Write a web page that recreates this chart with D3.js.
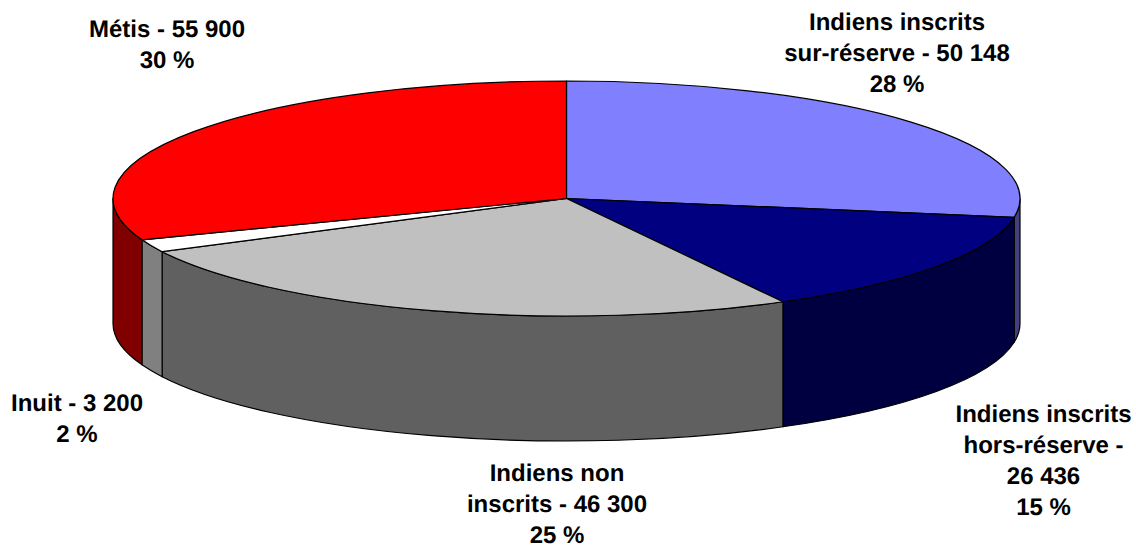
<!DOCTYPE html>
<html>
<head>
<meta charset="utf-8">
<script src="https://cdn.jsdelivr.net/npm/d3@7"></script>
<style>
  html, body { margin: 0; padding: 0; background: #fff; }
  svg { display: block; }
</style>
</head>
<body>
<div id="viz"></div>
<script>
const categories = ["Indiens inscrits sur-réserve", "Indiens inscrits hors-réserve", "Indiens non inscrits", "Inuit", "Métis"];
const values = [50148, 26436, 46300, 3200, 55900];
const topColors = ["#8080ff", "#000080", "#c0c0c0", "#ffffff", "#ff0000"];
const sideColors = ["#404080", "#000040", "#606060", "#808080", "#800000"];
const labelLines = [
  ["Indiens inscrits", "sur-réserve - 50 148", "28 %"],
  ["Indiens inscrits", "hors-réserve -", "26 436", "15 %"],
  ["Indiens non", "inscrits - 46 300", "25 %"],
  ["Inuit - 3 200", "2 %"],
  ["Métis - 55 900", "30 %"]
];

const width = 1136, height = 546;
const pieGeom = {cx: 566.5, cy: 198.5, rx: 453.5, ry: 117.5, depth: 125};
// where the first line of each label sits
const labelPos = [[897, 30], [1043.5, 422], [557, 481], [77, 411], [167, 37]];

const svg = d3.select("#viz").append("svg")
  .attr("width", width)
  .attr("height", height)
  .style("font-family", "'Liberation Sans', Arial, sans-serif");

const slices = d3.pie().sort(null).value(d => d)(values);

function pt(a, dy) {
  return [pieGeom.cx + pieGeom.rx * Math.sin(a), pieGeom.cy - pieGeom.ry * Math.cos(a) + (dy || 0)];
}

function arcTo(a0, a1, dy, sweep) {
  let p = pt(a1, dy);
  let large = Math.abs(a1 - a0) > Math.PI ? 1 : 0;
  return `A${pieGeom.rx},${pieGeom.ry} 0 ${large} ${sweep} ${p[0]},${p[1]}`;
}

function topPath(d) {
  let p = pt(d.startAngle);
  return `M${pieGeom.cx},${pieGeom.cy}L${p[0]},${p[1]}` + arcTo(d.startAngle, d.endAngle, 0, 1) + "Z";
}

// only the front half of the rim can be seen
function sidePath(d) {
  let a0 = Math.max(d.startAngle, Math.PI / 2);
  let a1 = Math.min(d.endAngle, Math.PI * 1.5);
  if (a1 <= a0) return null;
  let p = pt(a0);
  let q = pt(a1, pieGeom.depth);
  return `M${p[0]},${p[1]}` + arcTo(a0, a1, 0, 1) + `L${q[0]},${q[1]}` + arcTo(a1, a0, pieGeom.depth, 0) + "Z";
}

svg.append("g")
  .attr("stroke", "#000")
  .attr("stroke-width", 1.2)
  .attr("stroke-linejoin", "round")
.selectAll("path")
.data(slices.filter(d => sidePath(d)))
.join("path")
  .attr("d", sidePath)
  .attr("fill", d => sideColors[d.index]);

svg.append("g")
  .attr("stroke", "#000")
  .attr("stroke-width", 1.2)
  .attr("stroke-linejoin", "round")
.selectAll("path")
.data(slices)
.join("path")
  .attr("d", topPath)
  .attr("fill", d => topColors[d.index]);

const labels = svg.append("g")
  .attr("font-size", 24)
  .attr("font-weight", "bold")
  .attr("text-anchor", "middle")
  .attr("fill", "#000")
  .attr("text-rendering", "geometricPrecision")
.selectAll("text")
.data(labelLines)
.join("text")
  .attr("transform", (d, i) => `translate(${labelPos[i][0]},${labelPos[i][1]})`);

labels.selectAll("tspan")
  .data(d => d)
  .join("tspan")
    .attr("x", 0)
    .attr("y", (d, i) => i * 31)
    .text(d => d);
</script>
</body>
</html>
